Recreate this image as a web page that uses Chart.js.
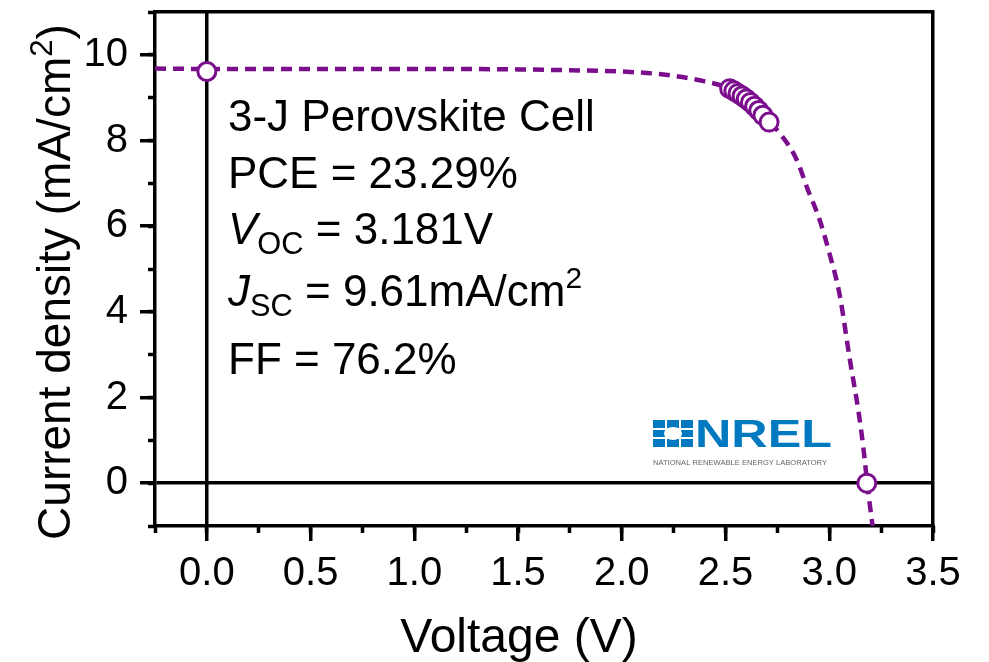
<!DOCTYPE html>
<html>
<head>
<meta charset="utf-8">
<script src="https://cdn.jsdelivr.net/npm/chart.js@4.4.0/dist/chart.umd.min.js"></script>
<style>
  html, body { margin: 0; padding: 0; background: #fff; }
  #wrap { width: 989px; height: 662px; position: relative; }
</style>
</head>
<body>
<div id="wrap"><canvas id="jvChart"></canvas></div>
<script>
// fitted J-V curve (dashed)
const curveVoltage = [-0.25, 0, 0.5, 1.0, 1.5, 1.75, 2.0, 2.2, 2.4, 2.5, 2.6, 2.7, 2.76, 2.84, 2.9, 2.95, 3.0, 3.05, 3.1, 3.14, 3.165, 3.183, 3.205, 3.225];
const curveCurrent = [9.68, 9.67, 9.67, 9.67, 9.66, 9.64, 9.61, 9.54, 9.38, 9.25, 8.97, 8.47, 8.18, 7.58, 6.81, 6.2, 5.38, 4.4, 2.86, 1.7, 0.8, 0.0, -0.86, -1.5];

// measured points (open circles)
const measVoltage = [0, 2.52, 2.54, 2.56, 2.58, 2.60, 2.62, 2.64, 2.66, 2.68, 2.71, 3.181];
const measCurrent = [9.61, 9.21, 9.16, 9.10, 9.04, 8.97, 8.89, 8.80, 8.70, 8.59, 8.43, 0];

// axis ticks
const xMajorTicks = [0, 0.5, 1.0, 1.5, 2.0, 2.5, 3.0, 3.5];
const xMinorTicks = [-0.25, 0, 0.25, 0.5, 0.75, 1.0, 1.25, 1.5, 1.75, 2.0, 2.25, 2.5, 2.75, 3.0, 3.25, 3.5];
const yMajorTicks = [0, 2, 4, 6, 8, 10];
const yMinorTicks = [-1, 0, 1, 2, 3, 4, 5, 6, 7, 8, 9, 10, 11];

const xTitle = "Voltage (V)";
const yTitle = ["Current density (mA/cm", "2", ")"];
const infoLines = [
  [{ t: "3-J Perovskite Cell" }],
  [{ t: "PCE = 23.29%" }],
  [{ t: "V", it: true }, { t: "OC", sub: true }, { t: " = 3.181V" }],
  [{ t: "J", it: true }, { t: "SC", sub: true }, { t: " = 9.61mA/cm" }, { t: "2", sup: true }],
  [{ t: "FF = 76.2%" }]
];

const FAM = "'Liberation Sans', Arial, sans-serif";
const PURPLE = "rgb(122, 14, 140)";

// draws a list of text runs (normal / italic / sub / sup) from x on baseline y
function drawRuns(ctx, runs, x, y, size, measureOnly) {
  let cx = x;
  runs.forEach(r => {
    let fs = size, dy = 0;
    if (r.sub) { fs = size * 0.7; dy = size * 0.22; }
    if (r.sup) { fs = size * 0.68; dy = -size * 0.4; }
    ctx.font = (r.it ? "italic " : "") + fs + "px " + FAM;
    if (!measureOnly) ctx.fillText(r.t, cx, y + dy);
    cx += ctx.measureText(r.t).width;
  });
  return cx - x;
}

const textPlugin = {
  id: "textPlugin",
  afterDraw(chart) {
    const ctx = chart.ctx;
    const area = chart.chartArea;
    ctx.save();
    ctx.fillStyle = "#000";
    ctx.textAlign = "left";
    ctx.textBaseline = "alphabetic";

    // info block
    const baselines = [131, 188, 244, 306, 374];
    infoLines.forEach((runs, i) => drawRuns(ctx, runs, area.left + 73, baselines[i], 44));

    // x title
    ctx.font = "48px " + FAM;
    const xw = ctx.measureText(xTitle).width;
    ctx.fillText(xTitle, 519 - xw / 2, 652);

    // y title (rotated)
    const yRuns = [{ t: yTitle[0] }, { t: yTitle[1], sup: true }, { t: yTitle[2] }];
    ctx.save();
    ctx.translate(70, 282);
    ctx.rotate(-Math.PI / 2);
    const yw = drawRuns(ctx, yRuns, 0, 0, 46, true);
    drawRuns(ctx, yRuns, -yw / 2, 0, 46);
    ctx.restore();

    // NREL logo
    const lx = 653, ly = 420;
    ctx.fillStyle = "#0079c1";
    ctx.fillRect(lx, ly, 40, 27);
    ctx.fillStyle = "#fff";
    ctx.beginPath();
    ctx.ellipse(lx + 20, ly + 13.5, 9, 6.5, 0, 0, Math.PI * 2);
    ctx.fill();
    ctx.fillRect(lx + 12, ly, 2, 27);
    ctx.fillRect(lx + 26, ly, 2, 27);
    ctx.fillRect(lx, ly + 8, 40, 2);
    ctx.fillRect(lx, ly + 17, 40, 2);
    ctx.fillStyle = "#0079c1";
    ctx.font = "bold 38px " + FAM;
    const nw = ctx.measureText("NREL").width;
    ctx.save();
    ctx.translate(lx + 42, ly + 27);
    ctx.scale(137 / nw, 1);
    ctx.fillText("NREL", 0, 0);
    ctx.restore();
    ctx.fillStyle = "#666";
    ctx.font = "7px " + FAM;
    const sw = ctx.measureText("NATIONAL RENEWABLE ENERGY LABORATORY").width;
    ctx.save();
    ctx.translate(lx, ly + 45);
    ctx.scale(174 / sw, 1);
    ctx.fillText("NATIONAL RENEWABLE ENERGY LABORATORY", 0, 0);
    ctx.restore();

    ctx.restore();
  }
};

const zeroLine = c => (c.tick && c.tick.value === 0 ? "#000" : "rgba(0,0,0,0)");
const tickFont = { family: FAM, size: 40 };
const noPadX = h => s => { s.height = h; s.paddingLeft = 0; s.paddingRight = 0; };
const noPadY = w => s => { s.width = w; s.paddingTop = 0; s.paddingBottom = 0; };

new Chart(document.getElementById("jvChart"), {
  type: "scatter",
  data: {
    datasets: [
      {
        data: measVoltage.map((v, i) => ({ x: v, y: measCurrent[i] })),
        showLine: false,
        pointRadius: 9,
        pointBorderWidth: 3,
        pointBackgroundColor: "#fff",
        pointBorderColor: PURPLE,
        order: 1
      },
      {
        data: curveVoltage.map((v, i) => ({ x: v, y: curveCurrent[i] })),
        showLine: true,
        borderColor: PURPLE,
        borderWidth: 4.5,
        borderDash: [11, 7],
        pointRadius: 0,
        cubicInterpolationMode: "monotone",
        fill: false,
        order: 2
      }
    ]
  },
  options: {
    responsive: true,
    maintainAspectRatio: false,
    animation: false,
    events: [],
    layout: { padding: { left: 0, right: 56, top: 7, bottom: 0 } },
    plugins: { legend: { display: false }, tooltip: { enabled: false } },
    scales: {
      x: {
        type: "linear", position: "bottom", weight: 1, min: -0.25, max: 3.5,
        afterBuildTicks: s => { s.ticks = xMajorTicks.map(v => ({ value: v })); },
        afterFit: noPadX(136),
        ticks: { font: tickFont, color: "#000", padding: 9, maxRotation: 0, autoSkip: false,
                 callback: v => Number(v).toFixed(1) },
        grid: { drawOnChartArea: true, color: zeroLine, lineWidth: 3.5, tickLength: 15, tickColor: "#000", tickWidth: 3.5 },
        border: { display: true, color: "#000", width: 3.5 }
      },
      xMinor: {
        type: "linear", position: "bottom", weight: 0, min: -0.25, max: 3.5,
        afterBuildTicks: s => { s.ticks = xMinorTicks.map(v => ({ value: v })); },
        afterFit: noPadX(0),
        ticks: { display: false },
        grid: { drawOnChartArea: false, tickLength: 7, tickColor: "#000", tickWidth: 3.5 },
        border: { display: false }
      },
      xTop: {
        type: "linear", position: "top", min: -0.25, max: 3.5,
        afterFit: noPadX(0),
        ticks: { display: false },
        grid: { display: false },
        border: { display: true, color: "#000", width: 3.5 }
      },
      y: {
        type: "linear", position: "left", weight: 1, min: -1, max: 11,
        afterBuildTicks: s => { s.ticks = yMajorTicks.map(v => ({ value: v })); },
        afterFit: noPadY(155),
        ticks: { font: tickFont, color: "#000", padding: 12, autoSkip: false },
        grid: { drawOnChartArea: true, color: zeroLine, lineWidth: 3.5, tickLength: 15, tickColor: "#000", tickWidth: 3.5 },
        border: { display: true, color: "#000", width: 3.5 }
      },
      yMinor: {
        type: "linear", position: "left", weight: 0, min: -1, max: 11,
        afterBuildTicks: s => { s.ticks = yMinorTicks.map(v => ({ value: v })); },
        afterFit: noPadY(0),
        ticks: { display: false },
        grid: { drawOnChartArea: false, tickLength: 7, tickColor: "#000", tickWidth: 3.5 },
        border: { display: false }
      },
      yRight: {
        type: "linear", position: "right", min: -1, max: 11,
        afterFit: noPadY(0),
        ticks: { display: false },
        grid: { display: false },
        border: { display: true, color: "#000", width: 3.5 }
      }
    }
  },
  plugins: [textPlugin]
});
</script>
</body>
</html>
